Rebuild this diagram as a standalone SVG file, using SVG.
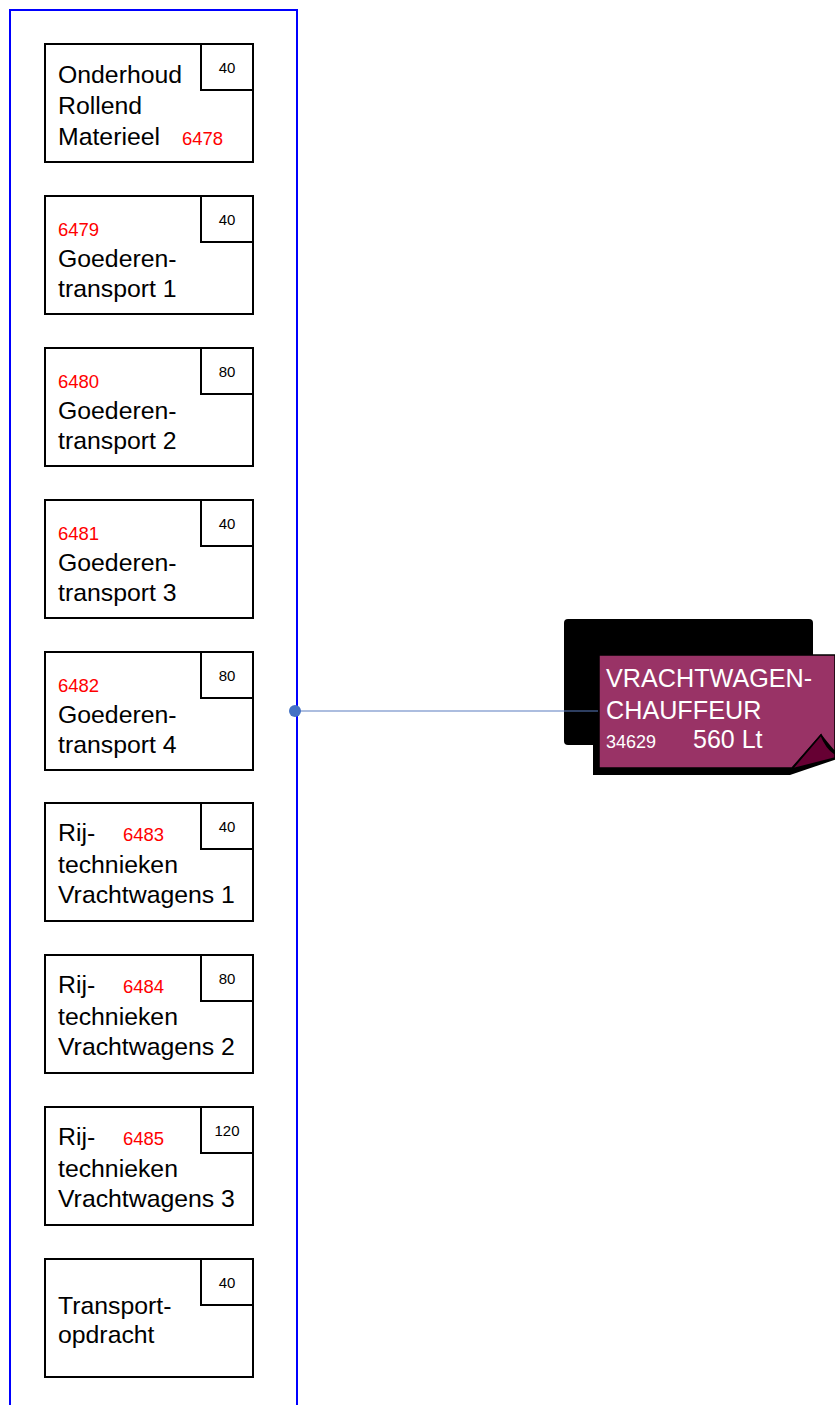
<svg xmlns="http://www.w3.org/2000/svg" width="835" height="1405" viewBox="0 0 835 1405">
<style>
.box{fill:#fff;stroke:#000;stroke-width:2}
.t{font-family:"Liberation Sans",Arial,sans-serif;font-size:24.8px;fill:#000}
.r{font-family:"Liberation Sans",Arial,sans-serif;font-size:18.5px;fill:#ff0000}
.n{font-family:"Liberation Sans",Arial,sans-serif;font-size:15px;fill:#000;text-anchor:middle}
.w{font-family:"Liberation Sans",Arial,sans-serif;fill:#fff}
</style>
<rect width="835" height="1405" fill="#fff"/>
<g id="container">
<rect x="10" y="10" width="287" height="1420" fill="none" stroke="#0000ff" stroke-width="2"/>
</g>
<g id="n6478" transform="translate(45,44)">
<rect class="box" width="208" height="118"/>
<rect class="box" x="156" width="52" height="46"/>
<text class="n" x="182" y="29">40</text>
<text class="t" x="13" y="39">Onderhoud</text>
<text class="t" x="13" y="70">Rollend</text>
<text class="t" x="13" y="101">Materieel</text>
<text class="r" x="137" y="101">6478</text>
</g>
<g id="n6479" transform="translate(45,196)">
<rect class="box" width="208" height="118"/>
<rect class="box" x="156" width="52" height="46"/>
<text class="n" x="182" y="29">40</text>
<text class="r" x="13" y="40">6479</text>
<text class="t" x="13" y="71">Goederen-</text>
<text class="t" x="13" y="101">transport 1</text>
</g>
<g id="n6480" transform="translate(45,348)">
<rect class="box" width="208" height="118"/>
<rect class="box" x="156" width="52" height="46"/>
<text class="n" x="182" y="29">80</text>
<text class="r" x="13" y="40">6480</text>
<text class="t" x="13" y="71">Goederen-</text>
<text class="t" x="13" y="101">transport 2</text>
</g>
<g id="n6481" transform="translate(45,500)">
<rect class="box" width="208" height="118"/>
<rect class="box" x="156" width="52" height="46"/>
<text class="n" x="182" y="29">40</text>
<text class="r" x="13" y="40">6481</text>
<text class="t" x="13" y="71">Goederen-</text>
<text class="t" x="13" y="101">transport 3</text>
</g>
<g id="n6482" transform="translate(45,652)">
<rect class="box" width="208" height="118"/>
<rect class="box" x="156" width="52" height="46"/>
<text class="n" x="182" y="29">80</text>
<text class="r" x="13" y="40">6482</text>
<text class="t" x="13" y="71">Goederen-</text>
<text class="t" x="13" y="101">transport 4</text>
</g>
<g id="n6483" transform="translate(45,803)">
<rect class="box" width="208" height="118"/>
<rect class="box" x="156" width="52" height="46"/>
<text class="n" x="182" y="29">40</text>
<text class="t" x="13" y="38">Rij-</text>
<text class="r" x="78" y="38">6483</text>
<text class="t" x="13" y="70">technieken</text>
<text class="t" x="13" y="100">Vrachtwagens 1</text>
</g>
<g id="n6484" transform="translate(45,955)">
<rect class="box" width="208" height="118"/>
<rect class="box" x="156" width="52" height="46"/>
<text class="n" x="182" y="29">80</text>
<text class="t" x="13" y="38">Rij-</text>
<text class="r" x="78" y="38">6484</text>
<text class="t" x="13" y="70">technieken</text>
<text class="t" x="13" y="100">Vrachtwagens 2</text>
</g>
<g id="n6485" transform="translate(45,1107)">
<rect class="box" width="208" height="118"/>
<rect class="box" x="156" width="52" height="46"/>
<text class="n" x="182" y="29">120</text>
<text class="t" x="13" y="38">Rij-</text>
<text class="r" x="78" y="38">6485</text>
<text class="t" x="13" y="70">technieken</text>
<text class="t" x="13" y="100">Vrachtwagens 3</text>
</g>
<g id="transportopdracht" transform="translate(45,1259)">
<rect class="box" width="208" height="118"/>
<rect class="box" x="156" width="52" height="46"/>
<text class="n" x="182" y="29">40</text>
<text class="t" x="13" y="55">Transport-</text>
<text class="t" x="13" y="84">opdracht</text>
</g>
<g id="vrachtwagenchauffeur">
<rect x="564" y="619" width="249" height="126" rx="4" fill="#000"/>
<path d="M593,658 L593,775 L790,775 L840,758 L840,660 Z" fill="#000"/>
<path d="M599,655 L835,655 L835,752 Q826,742 821,735 L792,768 L599,768 Z" fill="#993366" stroke="#000" stroke-width="1.5"/>
<path d="M792,769 L821,735 Q826,748 835,754 L835,758 Z" fill="#660033" stroke="#000" stroke-width="1.5"/>
<text class="w" x="606" y="687" font-size="25.2">VRACHTWAGEN-</text>
<text class="w" x="606" y="719" font-size="25.2">CHAUFFEUR</text>
<text class="w" x="606" y="748" font-size="18">34629</text>
<text class="w" x="693" y="748" font-size="25">560 Lt</text>
</g>
<g id="connectors">
<line x1="295" y1="711" x2="598" y2="711" stroke="#5A7DBF" stroke-width="1.2"/>
<circle cx="295" cy="711" r="6" fill="#4472C4"/>
</g>
</svg>
